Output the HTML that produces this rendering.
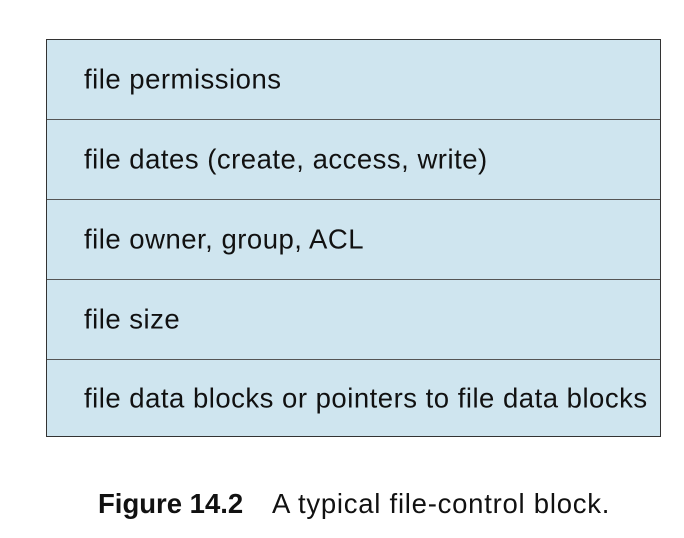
<!DOCTYPE html>
<html><head><style>
body{margin:0;width:684px;height:538px;background:#fff;position:relative;font-family:"Liberation Sans",Arial,sans-serif;}
.box{position:absolute;left:46px;top:39px;width:613px;height:396px;border:1px solid #333;background:#cfe5ef;}
.row{position:absolute;left:0;width:613px;height:79px;border-bottom:1.5px solid #555;}
.row span{position:absolute;left:37px;top:50%;transform:translateY(-52%);font-size:27.5px;color:#111;white-space:nowrap;letter-spacing:0.5px;}
.cap{position:absolute;top:488px;font-size:27.5px;color:#111;white-space:nowrap;}
</style></head><body>
<div class="box">
<div class="row" style="top:0"><span>file permissions</span></div>
<div class="row" style="top:80px"><span>file dates (create, access, write)</span></div>
<div class="row" style="top:160px"><span>file owner, group, ACL</span></div>
<div class="row" style="top:240px"><span>file size</span></div>
<div class="row" style="top:319px;border-bottom:none"><span>file data blocks or pointers to file data blocks</span></div>
</div>
<div class="cap" style="left:98px;font-weight:bold">Figure 14.2</div>
<div class="cap" style="left:272px;letter-spacing:0.75px">A typical file-control block.</div>
</body></html>
